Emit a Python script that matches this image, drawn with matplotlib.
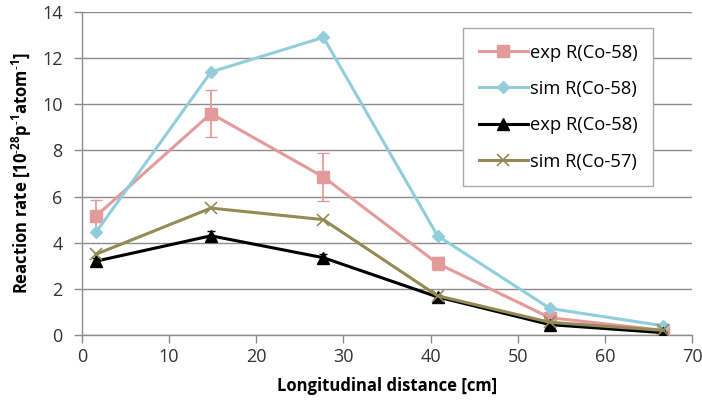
import matplotlib
matplotlib.use('Agg')
import matplotlib.pyplot as plt

# distances along the target [cm]
distance = [1.6, 14.8, 27.7, 40.8, 53.7, 66.7]

exp_co58 = [5.15, 9.6, 6.85, 3.1, 0.75, 0.2]
exp_co58_err = [0.7, 1.0, 1.05, 0.3, 0.12, 0.05]
sim_co58 = [4.45, 11.4, 12.9, 4.3, 1.15, 0.4]
exp_co58_b = [3.2, 4.3, 3.35, 1.65, 0.45, 0.1]
exp_co58_b_err = [0.15, 0.2, 0.15, 0.1, 0.1, 0.05]
sim_co57 = [3.5, 5.5, 5.0, 1.7, 0.55, 0.2]

labels = ['exp R(Co-58)', 'sim R(Co-58)', 'exp R(Co-58)', 'sim R(Co-57)']

plt.rcParams['font.family'] = ['Open Sans', 'DejaVu Sans']
plt.rcParams['mathtext.fontset'] = 'custom'
plt.rcParams['mathtext.rm'] = 'Open Sans:bold'
plt.rcParams['mathtext.default'] = 'rm'

fig = plt.figure(figsize=(7.02, 4.17), dpi=100)
ax = fig.add_axes([82 / 702, 1 - 335 / 417, 610 / 702, 323 / 417])

pink = '#E39A9B'
cyan = '#92CDDC'
olive = '#948A54'

h1 = ax.errorbar(distance, exp_co58, yerr=exp_co58_err, color=pink, marker='s',
                 markersize=8, lw=2.2, capsize=4, elinewidth=1.3, zorder=3)
h2, = ax.plot(distance, sim_co58, color=cyan, marker='D', markersize=6, lw=2.2,
              zorder=4)
h3 = ax.errorbar(distance, exp_co58_b, yerr=exp_co58_b_err, color='black', marker='^',
                 markersize=8, lw=2.2, capsize=3, elinewidth=1.3, zorder=5)
h4, = ax.plot(distance, sim_co57, color=olive, marker='x', markersize=9, mew=1.2,
              lw=2.2, zorder=6)

ax.set_xlim(0, 70)
ax.set_ylim(0, 14)
ax.set_xticks(range(0, 71, 10))
ax.set_yticks(range(0, 15, 2))
ax.yaxis.grid(True, color='#8C8C8C', lw=1)
ax.set_axisbelow(True)
for s in ['top', 'right']:
    ax.spines[s].set_visible(False)
for s in ['left', 'bottom']:
    ax.spines[s].set_color('#8C8C8C')
    ax.spines[s].set_linewidth(1)
ax.tick_params(axis='both', colors='#8C8C8C', labelcolor='#333333',
               labelsize=13, length=6, width=1)
ax.tick_params(axis='y', pad=8)

ax.set_xlabel('Longitudinal distance [cm]', fontsize=12, fontweight='bold', labelpad=8)
ax.set_ylabel('Reaction rate [10$^{\u2010 28}$p$^{\u2010 1}$atom$^{\u2010 1}$]', fontsize=12,
              fontweight='bold', labelpad=6)

# legend handles without the error bars, like the spreadsheet legend
leg = ax.legend([h1[0], h2, h3[0], h4], labels,
                loc='upper left', bbox_to_anchor=((463 - 82) / 610, (335 - 28) / 323),
                fontsize=13.2, handlelength=2.7, handletextpad=0.1, labelspacing=1.0,
                borderpad=0.85, borderaxespad=0, fancybox=False, framealpha=1)
leg.get_frame().set_edgecolor('#AAAAAA')
leg.get_frame().set_linewidth(1)

fig.savefig('out.png', dpi=100)
